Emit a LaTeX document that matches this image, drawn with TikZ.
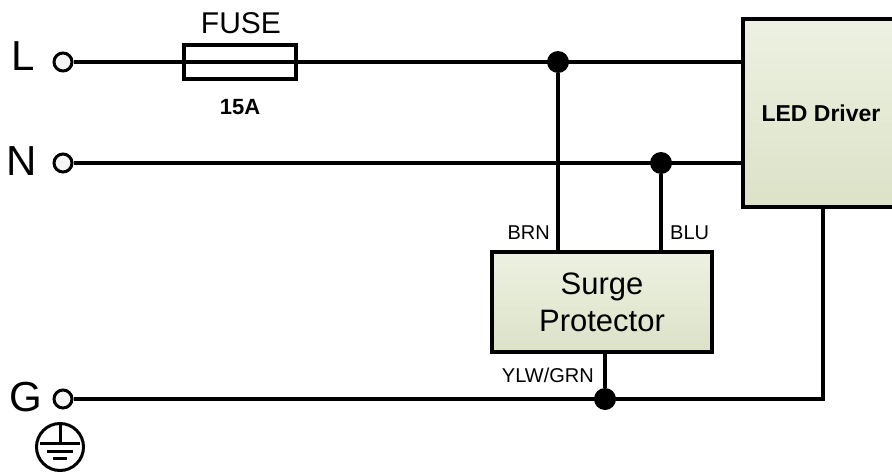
\documentclass[tikz,border=0pt]{standalone}
\usepackage{fontspec}
\setmainfont{Liberation Sans}
\usetikzlibrary{positioning, calc}
\definecolor{boxtop}{RGB}{237,241,226}
\definecolor{boxbot}{RGB}{220,226,199}

\begin{document}
\begin{tikzpicture}[x=1pt, y=-1pt,
        wire/.style={line width=3.3pt},
        term/.style={circle, draw, line width=3pt, fill=gray!8,
                     minimum size=18pt, inner sep=0pt},
        junc/.style={circle, fill=black, minimum size=22pt, inner sep=0pt},
        unit/.style={rectangle, draw, line width=4pt,
                     top color=boxtop, bottom color=boxbot, align=center},
        big/.style={font=\fontsize{42}{44}\selectfont, inner sep=0pt},
        tag/.style={font=\fontsize{20}{22}\selectfont, inner sep=0pt},
    ]
    \useasboundingbox (0,0) rectangle (892,474);

    % Terminals
    \node[term] (tL) at (63,62) {};
    \node[term] (tN) at (63,163) {};
    \node[term] (tG) at (63,399) {};
    \node[big] (lL) at (23,56) {L};
    \node[big] (lN) at (22,161) {N};
    \node[big] (lG) at (26,397) {G};

    % Boxes
    \node[unit, minimum width=156pt, minimum height=188pt,
          font=\bfseries\fontsize{23}{26}\selectfont] (drv) at (821,113) {LED Driver};
    \node[unit, minimum width=220pt, minimum height=100pt,
          font=\fontsize{31}{37}\selectfont] (srg) at (602,302) {Surge\\Protector};

    % Junctions
    \node[junc] (jL) at (558,62) {};
    \node[junc] (jN) at (661,163) {};
    \node[junc] (jG) at (605,399) {};

    % Wiring
    \draw[wire] (tL) -- (tL -| drv.west);
    \draw[wire] (tN) -- (tN -| drv.west);
    \draw[wire] (jL) -- (jL |- srg.north);
    \draw[wire] (jN) -- (jN |- srg.north);
    \draw[wire] (srg.south -| jG) -- (jG);
    \draw[wire] (tG) -| ($(drv.south)+(2,0)$);

    % Fuse
    \node[draw, line width=3.5pt, minimum width=112pt, minimum height=34pt] (fuse) at (240,62) {};
    \node[font=\fontsize{30}{32}\selectfont, inner sep=0pt] (fuselbl) at (241,23) {FUSE};
    \node[font=\bfseries\fontsize{22}{24}\selectfont, inner sep=0pt] (amps) at (240,107) {15A};

    % Wire colours
    \node[tag, anchor=east] (brn) at (550,233) {BRN};
    \node[tag, anchor=west] (blu) at (670,233) {BLU};
    \node[tag, anchor=east] (ylw) at (594,375) {YLW/GRN};

    % Earth symbol
    \node[circle, draw, line width=3pt, minimum size=47pt, inner sep=0pt] (earth) at (60,447) {};
    \draw[line width=3pt] (earth.north) -- ++(0,21)
        ++(-20,0) -- ++(40,0)
        ++(-33,8) -- ++(26,0)
        ++(-20,7) -- ++(14,0);
\end{tikzpicture}
\end{document}
